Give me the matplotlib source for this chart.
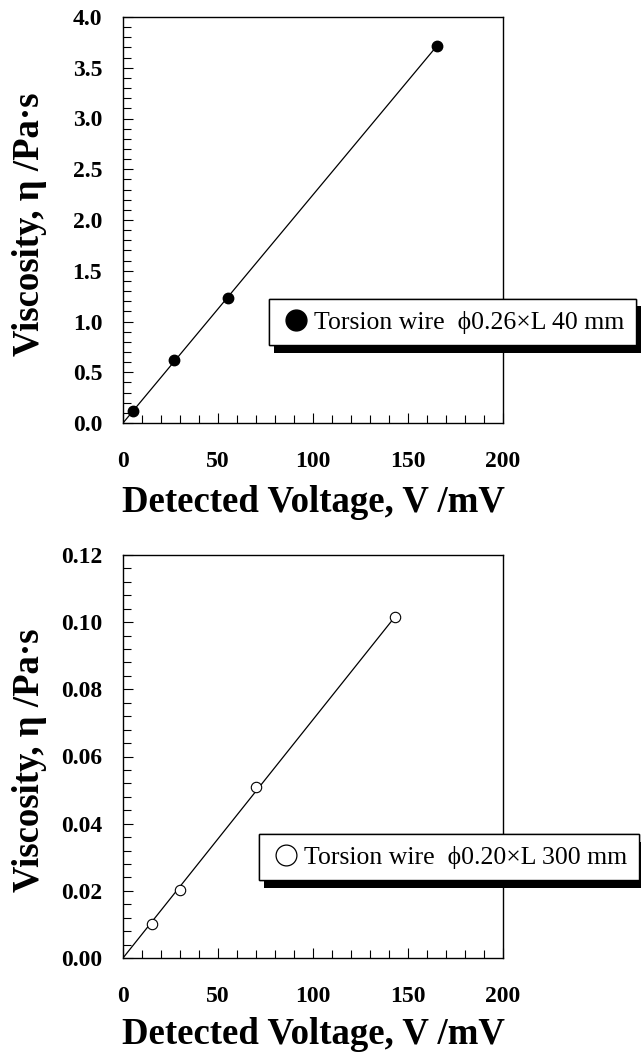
#!/usr/bin/env python

import matplotlib
matplotlib.use('Agg')
import matplotlib.pyplot as plt
import matplotlib.patheffects as pe
from matplotlib.lines import Line2D
from matplotlib.ticker import MultipleLocator, FormatStrFormatter

plt.rcParams['font.family'] = ['Liberation Serif', 'DejaVu Serif']

# upper panel: thick short wire
top_voltage = [5, 27, 55, 165]
top_viscosity = [0.12, 0.62, 1.23, 3.71]
top_fit_voltage = [0, 165]
top_fit_viscosity = [0.0, 3.71]
top_label = 'Torsion wire  \u03d50.26\u00d7L 40 mm'

# lower panel: thin long wire
bot_voltage = [15, 30, 70, 143]
bot_viscosity = [0.0102, 0.0203, 0.0509, 0.1015]
bot_fit_voltage = [0, 143]
bot_fit_viscosity = [0.0, 0.1015]
bot_label = 'Torsion wire  \u03d50.20\u00d7L 300 mm'

x_ticks = [0, 50, 100, 150, 200]

XLABEL = 'Detected Voltage, V /mV'
YLABEL = 'Viscosity, \u03b7 /Pa\u00b7s'


def draw_panel(ax, xvals, yvals, fit_x, fit_y, ymax, ymajor, yminor, yfmt,
               filled, label, legend_anchor):
    ax.plot(fit_x, fit_y, color='k', lw=0.9, zorder=2)
    if filled:
        ax.plot(xvals, yvals, 'o', color='k', ms=7.5, zorder=3)
    else:
        ax.plot(xvals, yvals, 'o', mfc='white', mec='k', mew=0.8, ms=7.5,
                zorder=3)

    ax.set_xlim(0, 200)
    ax.set_ylim(0, ymax)
    ax.set_xticks(x_ticks)
    ax.xaxis.set_minor_locator(MultipleLocator(10))
    ax.yaxis.set_major_locator(MultipleLocator(ymajor))
    ax.yaxis.set_minor_locator(MultipleLocator(yminor))
    ax.yaxis.set_major_formatter(FormatStrFormatter(yfmt))

    ax.tick_params(which='both', direction='in', top=False, right=False,
                   width=0.8, labelsize=17)
    ax.tick_params(which='major', length=7)
    ax.tick_params(which='minor', length=5.5)
    ax.tick_params(axis='x', pad=20)
    ax.tick_params(axis='y', pad=15)
    for lab in ax.get_xticklabels() + ax.get_yticklabels():
        lab.set_fontweight('bold')
    for sp in ax.spines.values():
        sp.set_linewidth(1.0)

    ax.set_xlabel(XLABEL, fontsize=26.5, fontweight='bold')
    ax.set_ylabel(YLABEL, fontsize=26.5, fontweight='bold')

    if filled:
        handle = Line2D([], [], marker='o', ls='none', color='k', ms=15)
    else:
        handle = Line2D([], [], marker='o', ls='none', mfc='white', mec='k',
                        mew=0.9, ms=15)
    leg = ax.legend([handle], [label], loc='upper left',
                    bbox_to_anchor=legend_anchor,
                    bbox_transform=ax.figure.transFigure,
                    fancybox=False, framealpha=1, edgecolor='k',
                    fontsize=18.5, handlelength=1.2, handletextpad=0.12,
                    borderpad=0.45, borderaxespad=0)
    frame = leg.get_frame()
    frame.set_linewidth(1.0)
    frame.set_path_effects([
        pe.withSimplePatchShadow(offset=(3.6, -5.4), shadow_rgbFace='k',
                                 alpha=1.0),
        pe.Normal()])
    leg.set_zorder(10)
    return ax


fig = plt.figure(figsize=(6.41, 10.53), dpi=100)

ax_top = fig.add_axes([123 / 641, 1 - 423 / 1053, 380 / 641, 406 / 1053])
draw_panel(ax_top, top_voltage, top_viscosity, top_fit_voltage,
           top_fit_viscosity, 4.0, 0.5, 0.1, '%.1f', True, top_label,
           (269 / 641, 1 - 299 / 1053))
ax_top.xaxis.set_label_coords(0.5, -0.152)
ax_top.yaxis.set_label_coords(-0.2, 0.49)

ax_bot = fig.add_axes([123 / 641, 1 - 958 / 1053, 380 / 641, 403 / 1053])
draw_panel(ax_bot, bot_voltage, bot_viscosity, bot_fit_voltage,
           bot_fit_viscosity, 0.12, 0.02, 0.004, '%.2f', False, bot_label,
           (259 / 641, 1 - 834 / 1053))
ax_bot.xaxis.set_label_coords(0.5, -0.146)
ax_bot.yaxis.set_label_coords(-0.2, 0.49)

fig.savefig('out.png', dpi=100)
